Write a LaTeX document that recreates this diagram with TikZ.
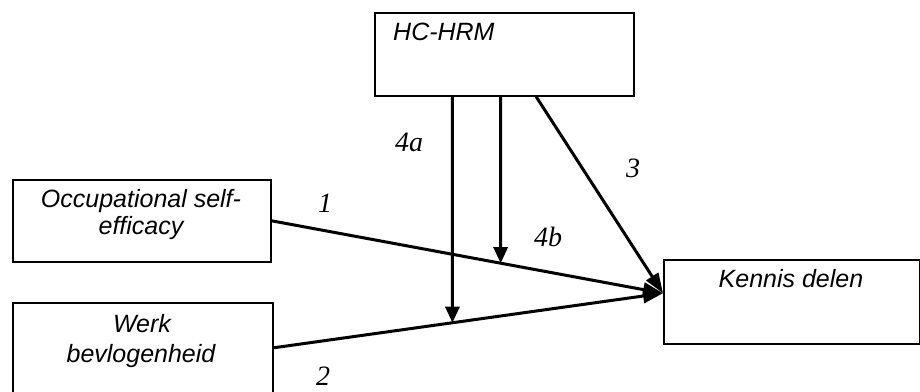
\documentclass[tikz,border=0pt]{standalone}
\usepackage{fontspec}
\setmainfont{Liberation Serif}
\newfontfamily\boxfont{Liberation Sans}
\usetikzlibrary{arrows.meta,calc}
\begin{document}
\begin{tikzpicture}[x=1pt,y=-1pt,
  box/.style={draw, line width=1.6pt, inner sep=0pt, rectangle, fill=white},
  btext/.style={font=\boxfont\itshape\fontsize{25}{30}\selectfont, anchor=base, inner sep=0pt},
  lab/.style={font=\itshape\fontsize{28}{32}\selectfont, inner sep=0pt},
  rel/.style={line width=3pt, -{Triangle[length=20pt,width=14pt]}},
  modarrow/.style={line width=3pt, -{Triangle[length=16pt,width=14pt]}}]
\useasboundingbox (0,0) rectangle (920,391);
\clip (0,0) rectangle (920,391);
\fill[white] (0,0) rectangle (920,391);
% boxes
\node[box, anchor=north west, minimum width=259pt, minimum height=83pt] (hc) at (374,12) {};
\node[btext, anchor=base west] (hct) at (393,40) {HC-HRM};
\node[box, anchor=north west, minimum width=258pt, minimum height=82pt] (occ) at (12,179) {};
\node[btext] (occt1) at (141,207) {Occupational self-};
\node[btext] (occt2) at (141,234) {efficacy};
\node[box, anchor=north west, minimum width=260pt, minimum height=90pt] (wb) at (12,302) {};
\node[btext] (wb1) at (142,332) {Werk};
\node[btext] (wb2) at (141,362) {bevlogenheid};
\node[box, anchor=north west, minimum width=256pt, minimum height=84pt] (kd) at (663,259) {};
\node[btext] (kdt) at (791,287) {Kennis delen};
% coordinates
\coordinate (tip) at ($(kd.north west)!0.4!(kd.south west)$);
\coordinate (oe) at (occ.east);
\coordinate (we) at (wb.east);
\coordinate (s4a) at ($(hc.south west)!0.301!(hc.south east)$);
\coordinate (s4b) at ($(hc.south west)!0.486!(hc.south east)$);
\coordinate (s3) at ($(hc.south west)!0.622!(hc.south east)$);
\coordinate (b4a) at ($(s4a)+(0,300)$);
\coordinate (b4b) at ($(s4b)+(0,300)$);
% connectors
\draw[rel] (oe) -- (tip);
\draw[rel] (we) -- (tip);
\draw[rel] (s3) -- (tip);
\draw[modarrow] (s4a) -- (intersection of s4a--b4a and we--tip);
\draw[modarrow] (s4b) -- (intersection of s4b--b4b and oe--tip);
% labels
\node[lab] (l4a) at (409,142) {4a};
\node[lab] (l4b) at (548,237) {4b};
\node[lab] (l3) at (633,168) {3};
\node[lab] (l1) at (325,203) {1};
\node[lab] (l2) at (323,376) {2};
\end{tikzpicture}
\end{document}
